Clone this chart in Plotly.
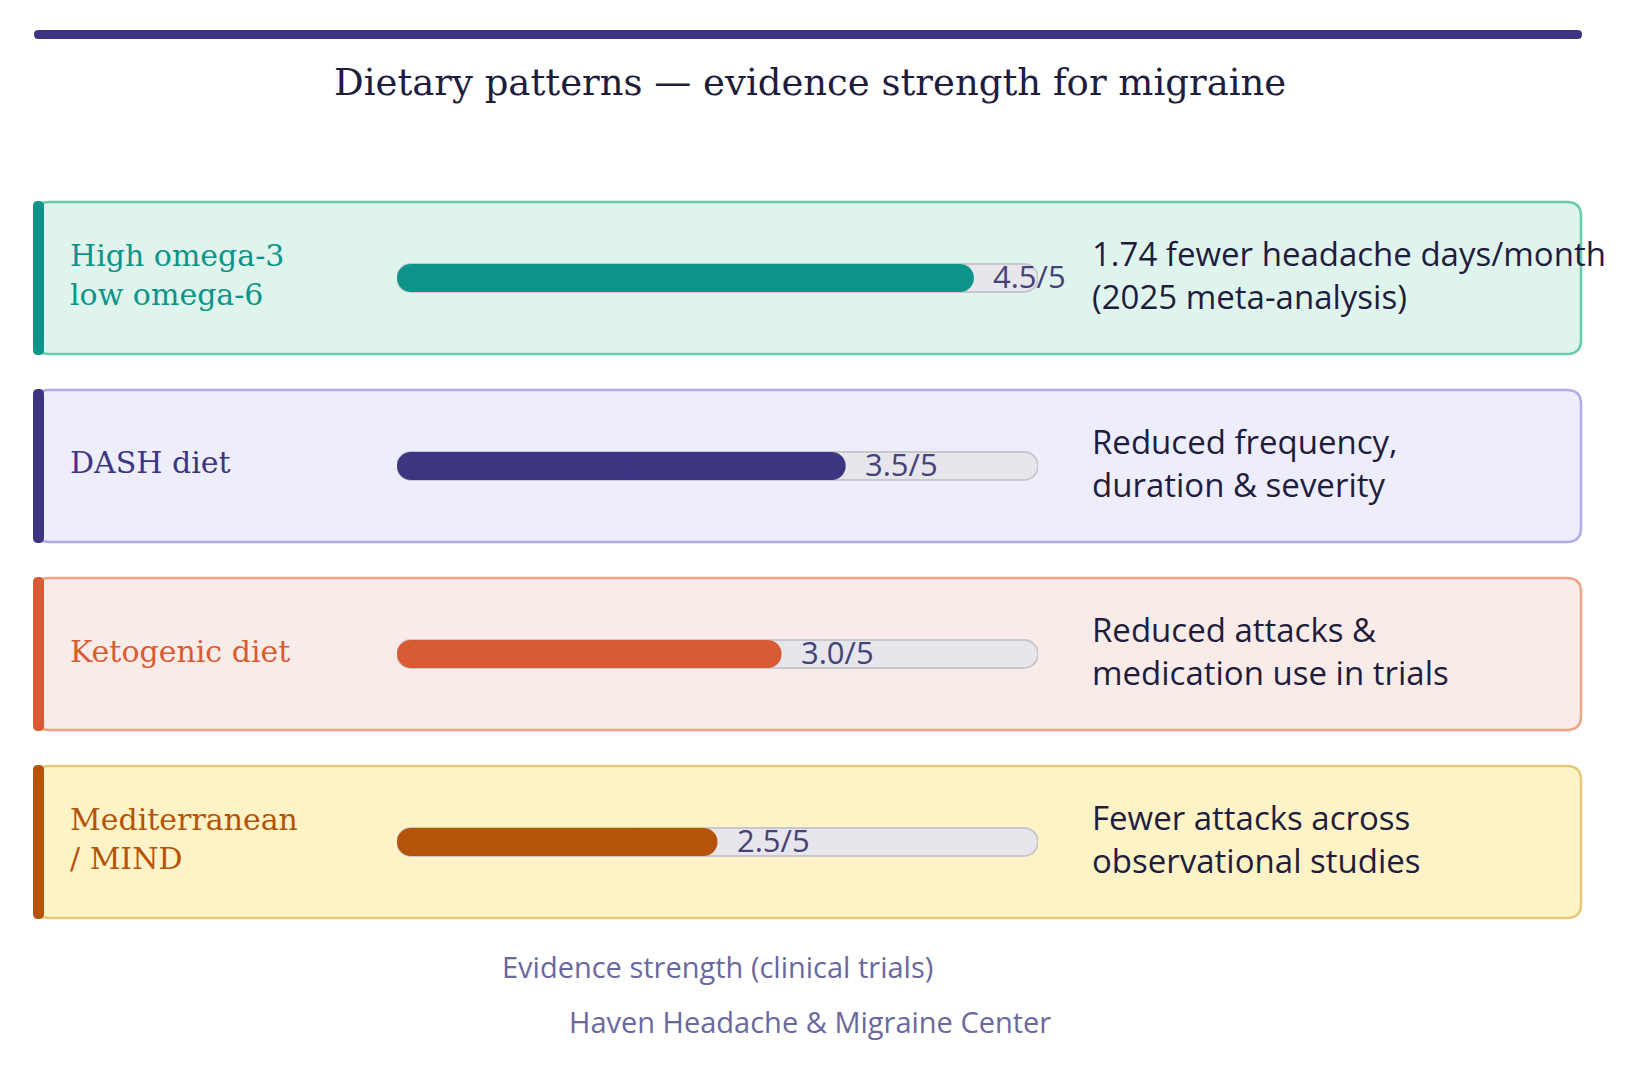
import plotly.graph_objects as go

# chart data
diets = ["High omega-3<br>low omega-6", "DASH diet", "Ketogenic diet", "Mediterranean<br>/ MIND"]
scores = [4.5, 3.5, 3.0, 2.5]
max_score = 5
findings = [
    "1.74 fewer headache days/month<br>(2025 meta-analysis)",
    "Reduced frequency,<br>duration & severity",
    "Reduced attacks &<br>medication use in trials",
    "Fewer attacks across<br>observational studies",
]

accent = ["#0d9488", "#3b3582", "#d95b33", "#b45309"]
card_fill = ["#e0f4ee", "#eeedfc", "#f9ece8", "#fdf3c7"]
card_line = ["#66cda8", "#b0abeb", "#f0a285", "#e6c878"]

W, H = 1613, 1051
OFF = 8  # body margin of the html page
ROW_TOP, ROW_H = 184, 188
TRACK_X0, TRACK_X1 = 397, 1038
CARD_X0, CARD_X1 = 35, 1581
# plotly only rounds the far end of a bar, so each bar is two overlapping
# pieces: one running back to 0 from SPLIT_HI, one running out from SPLIT_LO
SPLIT_LO, SPLIT_HI = 1.8, 2.1


def px(x):
    return (x - OFF) / W


def py(y):
    return 1 - (y - OFF) / H


def rrect(x0, y0, x1, y1, r):
    pts = [
        ("M", [(x0 + r, y0)]), ("L", [(x1 - r, y0)]), ("Q", [(x1, y0), (x1, y0 + r)]),
        ("L", [(x1, y1 - r)]), ("Q", [(x1, y1), (x1 - r, y1)]), ("L", [(x0 + r, y1)]),
        ("Q", [(x0, y1), (x0, y1 - r)]), ("L", [(x0, y0 + r)]), ("Q", [(x0, y0), (x0 + r, y0)]),
    ]
    out = ""
    for cmd, coords in pts:
        out += cmd + " ".join(f"{px(a):.5f},{py(b):.5f}" for a, b in coords) + " "
    return out + "Z"


n = len(diets)
ys = list(range(n))
bar_w = 28 / ROW_H  # even pixel height keeps the bar edges on whole pixels

fig = go.Figure()


def split_bar(values, marker):
    fig.add_trace(go.Bar(
        y=ys, x=[-SPLIT_HI] * n, base=[SPLIT_HI] * n, orientation="h", width=bar_w,
        marker=marker, hoverinfo="skip", showlegend=False,
    ))
    fig.add_trace(go.Bar(
        y=ys, x=[v - SPLIT_LO for v in values], base=[SPLIT_LO] * n, orientation="h", width=bar_w,
        marker=marker, hoverinfo="skip", showlegend=False,
    ))


# background track, then the score bars
split_bar([max_score] * n,
          dict(color="#e6e6ec", line=dict(color="#c8c8cc", width=2), cornerradius="50%"))
split_bar(scores, dict(color=accent, line=dict(width=0), cornerradius="50%"))

shapes = [dict(type="path", xref="paper", yref="paper", path=rrect(34, 30, CARD_X1 + 1, 39, 4.5),
               fillcolor="#3b3580", line=dict(width=0), layer="below")]
annotations = []
for i in range(n):
    c = ROW_TOP + (i + 0.5) * ROW_H
    shapes.append(dict(type="path", xref="paper", yref="paper",
                       path=rrect(CARD_X0, c - 76, CARD_X1, c + 76, 14),
                       fillcolor=card_fill[i], line=dict(color=card_line[i], width=2.5), layer="below"))
    shapes.append(dict(type="path", xref="paper", yref="paper",
                       path=rrect(33, c - 77, 44, c + 77, 5),
                       fillcolor=accent[i], line=dict(width=0), layer="below"))
    annotations.append(dict(
        x=px(68), xref="paper", y=i, yref="y", text=diets[i], showarrow=False,
        xanchor="left", yanchor="middle", align="left", yshift=3,
        font=dict(family="DejaVu Serif", size=30, color=accent[i]),
    ))
    annotations.append(dict(
        x=scores[i], xref="x", y=i, yref="y", text=f"{scores[i]:.1f}/{max_score}", showarrow=False,
        xanchor="left", yanchor="middle", xshift=17, yshift=2,
        font=dict(family="Open Sans", size=31, color="#45427a"),
    ))
    annotations.append(dict(
        x=px(1090), xref="paper", y=i, yref="y", text=findings[i], showarrow=False,
        xanchor="left", yanchor="middle", align="left", yshift=3,
        font=dict(family="Open Sans", size=33, color="#1f1d3d"),
    ))

annotations.append(dict(
    x=px(810), xref="paper", y=py(82), yref="paper", showarrow=False,
    text="Dietary patterns — evidence strength for migraine",
    xanchor="center", yanchor="middle",
    font=dict(family="DejaVu Serif", size=37, color="#1f1d3d"),
))
annotations.append(dict(
    x=0.5, xref="x domain", y=py(966), yref="paper", showarrow=False,
    text="Evidence strength (clinical trials)", xanchor="center", yanchor="middle",
    font=dict(family="Open Sans", size=29, color="#6b68a0"),
))
annotations.append(dict(
    x=px(810), xref="paper", y=py(1021), yref="paper", showarrow=False,
    text="Haven Headache & Migraine Center", xanchor="center", yanchor="middle",
    font=dict(family="Open Sans", size=29, color="#6b68a0"),
))

fig.update_layout(
    width=W, height=H,
    margin=dict(l=0, r=0, t=0, b=0),
    paper_bgcolor="white", plot_bgcolor="rgba(0,0,0,0)",
    barmode="overlay",
    shapes=shapes, annotations=annotations,
    xaxis=dict(domain=[px(TRACK_X0), px(TRACK_X1)], range=[0, max_score],
               visible=False, fixedrange=True),
    yaxis=dict(domain=[py(ROW_TOP + n * ROW_H), py(ROW_TOP)], range=[n - 0.5, -0.5],
               visible=False, fixedrange=True),
)

fig.write_html("out.html")
